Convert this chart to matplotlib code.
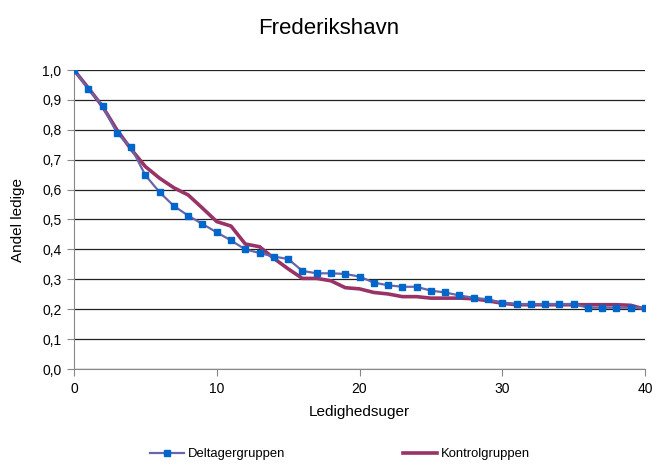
import numpy as np
import matplotlib
matplotlib.use("Agg")
import matplotlib.pyplot as plt
from matplotlib.ticker import FuncFormatter

plt.rcParams['font.family'] = ['Liberation Sans', 'DejaVu Sans']

weeks = list(range(41))
deltager = [1.0, 0.937, 0.88, 0.79, 0.741, 0.648, 0.591, 0.545, 0.513, 0.485,
            0.457, 0.43, 0.40, 0.388, 0.376, 0.368, 0.328, 0.32, 0.32, 0.318,
            0.309, 0.289, 0.28, 0.275, 0.275, 0.262, 0.256, 0.246, 0.238, 0.233,
            0.222, 0.217, 0.217, 0.217, 0.217, 0.217, 0.205, 0.205, 0.205, 0.205,
            0.205]
kontrol = [1.0, 0.94, 0.878, 0.80, 0.735, 0.677, 0.638, 0.606, 0.582, 0.538,
           0.493, 0.478, 0.418, 0.409, 0.37, 0.335, 0.303, 0.303, 0.295, 0.272,
           0.268, 0.256, 0.251, 0.242, 0.242, 0.237, 0.237, 0.237, 0.235, 0.228,
           0.22, 0.215, 0.215, 0.215, 0.215, 0.215, 0.215, 0.215, 0.215, 0.213,
           0.20]

fig = plt.figure(figsize=(6.58, 4.65), dpi=100)
ax = fig.add_axes([74/658, 1-369/465, (645-74)/658, (369-70)/465])

ax.plot(weeks, kontrol, color='#993366', lw=2.6, label='Kontrolgruppen', zorder=3)
ax.plot(weeks, deltager, color='#6666A8', lw=1.6, marker='s', ms=5,
        mfc='#0066CC', mec='#0066CC', label='Deltagergruppen', zorder=4)

ax.set_xlim(0, 40)
ax.set_ylim(0, 1.0)
ax.set_xticks([0, 10, 20, 30, 40])
ax.set_yticks(np.arange(0, 1.01, 0.1))
ax.yaxis.set_major_formatter(FuncFormatter(lambda v, p: f"{v:.1f}".replace('.', ',')))
ax.grid(axis='y', color='#222222', lw=0.9)
ax.set_axisbelow(True)
for s in ['top', 'right']:
    ax.spines[s].set_visible(False)
for s in ['left', 'bottom']:
    ax.spines[s].set_color('#888888')
ax.tick_params(axis='both', direction='out', length=5, color='#888888',
               labelsize=10, pad=4)
ax.set_xlabel('Ledighedsuger', fontsize=11, labelpad=7)
ax.set_ylabel('Andel ledige', fontsize=11, labelpad=12)
fig.text(0.5, 1 - 28/465, 'Frederikshavn', fontsize=16, ha='center', va='center')

h, l = ax.get_legend_handles_labels()
fig.legend([h[1], h[0]], [l[1], l[0]], loc='center left',
           bbox_to_anchor=(150/658, 1 - 454/465), borderaxespad=0, borderpad=0,
           ncol=2, frameon=False, fontsize=9.4, columnspacing=9.0, handlelength=2.6,
           handletextpad=0.3)

fig.savefig('out.png', dpi=100)
